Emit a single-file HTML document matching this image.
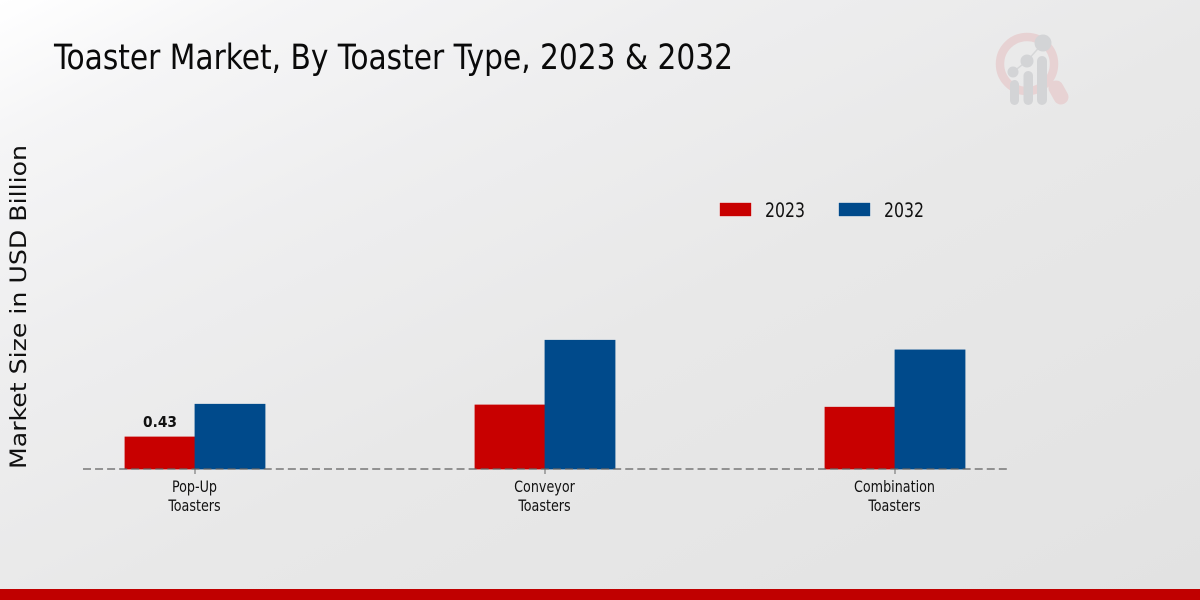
<!DOCTYPE html>
<html>
<head>
<meta charset="utf-8">
<style>
html,body{margin:0;padding:0;width:1200px;height:600px;overflow:hidden;background:#e4e4e4}
svg{display:block}
text{font-family:"DejaVu Sans","Liberation Sans",sans-serif}
.cond{font-stretch:condensed}
</style>
</head>
<body>
<svg id="chart" xmlns="http://www.w3.org/2000/svg" width="1200" height="600" viewBox="0 0 1200 600">
<defs>
<linearGradient id="bg" x1="0" y1="0" x2="1" y2="1">
<stop offset="0" stop-color="#ffffff"/>
<stop offset="0.12" stop-color="#f5f5f6"/>
<stop offset="0.3" stop-color="#eeeeef"/>
<stop offset="0.55" stop-color="#e8e8e8"/>
<stop offset="1" stop-color="#e2e2e2"/>
</linearGradient>
</defs>
<rect x="0" y="0" width="1200" height="600" fill="url(#bg)"/>
<rect x="0" y="589" width="1200" height="11" fill="#c00000"/>
<text class="cond" x="54" y="69" font-size="34.5" fill="#0a0a0a" textLength="679" lengthAdjust="spacingAndGlyphs">Toaster Market, By Toaster Type, 2023 &amp; 2032</text>
<text transform="translate(26,469) rotate(-90)" x="0" y="0" font-size="22.6" fill="#111" textLength="324" lengthAdjust="spacingAndGlyphs">Market Size in USD Billion</text>
<g>
<circle cx="1027" cy="64" r="27" fill="none" stroke="#e7d2d3" stroke-width="8.5"/>
<line x1="1056" y1="88" x2="1061" y2="97" stroke="#e7d2d3" stroke-width="15" stroke-linecap="round"/>
<polyline points="1013,72 1027,61 1043,43" fill="none" stroke="#d6d7d8" stroke-width="1.5"/>
<circle cx="1013" cy="72" r="5.5" fill="#d3d4d6"/>
<circle cx="1027" cy="61" r="6.5" fill="#d3d4d6"/>
<circle cx="1043" cy="43" r="8.5" fill="#d3d4d6"/>
<rect x="1010" y="80" width="9" height="25" rx="4.5" fill="#d3d4d6"/>
<rect x="1023.5" y="71" width="9.5" height="34" rx="4.75" fill="#d3d4d6"/>
<rect x="1037" y="56" width="10" height="49" rx="5" fill="#d3d4d6"/>
</g>
<g id="plot"></g>
<g>
<rect x="719.5" y="202.5" width="32" height="14" fill="#c80000" stroke="#f2f2f2" stroke-width="0.6"/>
<text class="cond" x="765" y="217" font-size="19.3" fill="#111" textLength="40" lengthAdjust="spacingAndGlyphs">2023</text>
<rect x="838.5" y="202.5" width="32" height="14" fill="#004a8b" stroke="#f2f2f2" stroke-width="0.6"/>
<text class="cond" x="884" y="217" font-size="19.3" fill="#111" textLength="40" lengthAdjust="spacingAndGlyphs">2032</text>
</g>
</svg>
<script>
const categories = [["Pop-Up", "Toasters"], ["Conveyor", "Toasters"], ["Combination", "Toasters"]];
const series2023 = [0.43, 0.86, 0.83];
const series2032 = [0.87, 1.73, 1.60];
const printedLabels2023 = ["0.43", "", ""];

const NS = "http://www.w3.org/2000/svg";
const plot = document.getElementById("plot");
const baseY = 469;
const unitPx = 74.4;
const firstCenter = 195;
const categoryStep = 350;
const barWidth = 70;

function xCenter(i) { return firstCenter + i * categoryStep; }
function yValue(v) { return baseY - v * unitPx; }

function drawBar(i, value, offset, color, name) {
  const r = document.createElementNS(NS, "rect");
  r.setAttribute("x", xCenter(i) + offset);
  r.setAttribute("y", yValue(value));
  r.setAttribute("width", barWidth);
  r.setAttribute("height", baseY - yValue(value));
  r.setAttribute("fill", color);
  r.setAttribute("stroke", color);
  r.setAttribute("stroke-width", "0.8");
  
  
  plot.appendChild(r);
}

categories.forEach(function (lines, i) {
  drawBar(i, series2023[i], -barWidth, "#c80000", "bar-2023");
  drawBar(i, series2032[i], 0, "#004a8b", "bar-2032");

  const tick = document.createElementNS(NS, "line");
  tick.setAttribute("x1", xCenter(i));
  tick.setAttribute("x2", xCenter(i));
  tick.setAttribute("y1", baseY);
  tick.setAttribute("y2", baseY + 5);
  tick.setAttribute("stroke", "#666");
  tick.setAttribute("stroke-width", "1");
  
  
  plot.appendChild(tick);

  lines.forEach(function (line, j) {
    const t = document.createElementNS(NS, "text");
    t.setAttribute("x", xCenter(i) - 0.5);
    t.setAttribute("y", 492 + j * 19);
    t.setAttribute("text-anchor", "middle");
    t.setAttribute("font-size", "16");
    t.setAttribute("fill", "#111");
    t.setAttribute("class", "cond");
    
    
    t.textContent = line;
    plot.appendChild(t);
    t.setAttribute("textLength", t.getComputedTextLength() * 0.885);
    t.setAttribute("lengthAdjust", "spacingAndGlyphs");
  });

  if (printedLabels2023[i]) {
    const v = document.createElementNS(NS, "text");
    v.setAttribute("x", xCenter(i) - barWidth / 2);
    v.setAttribute("y", yValue(series2023[i]) - 10);
    v.setAttribute("text-anchor", "middle");
    v.setAttribute("font-size", "15.5");
    v.setAttribute("font-weight", "bold");
    v.setAttribute("fill", "#111");
    v.setAttribute("textLength", "34");
    v.setAttribute("lengthAdjust", "spacingAndGlyphs");
    
    
    v.textContent = printedLabels2023[i];
    plot.appendChild(v);
  }
});

const axis = document.createElementNS(NS, "line");
axis.setAttribute("x1", 83);
axis.setAttribute("x2", 1007);
axis.setAttribute("y1", baseY);
axis.setAttribute("y2", baseY);
axis.setAttribute("stroke", "#5f5f5f");
axis.setAttribute("stroke-width", "1.2");
axis.setAttribute("stroke-dasharray", "8 4.05");


plot.appendChild(axis);
</script>
</body>
</html>
